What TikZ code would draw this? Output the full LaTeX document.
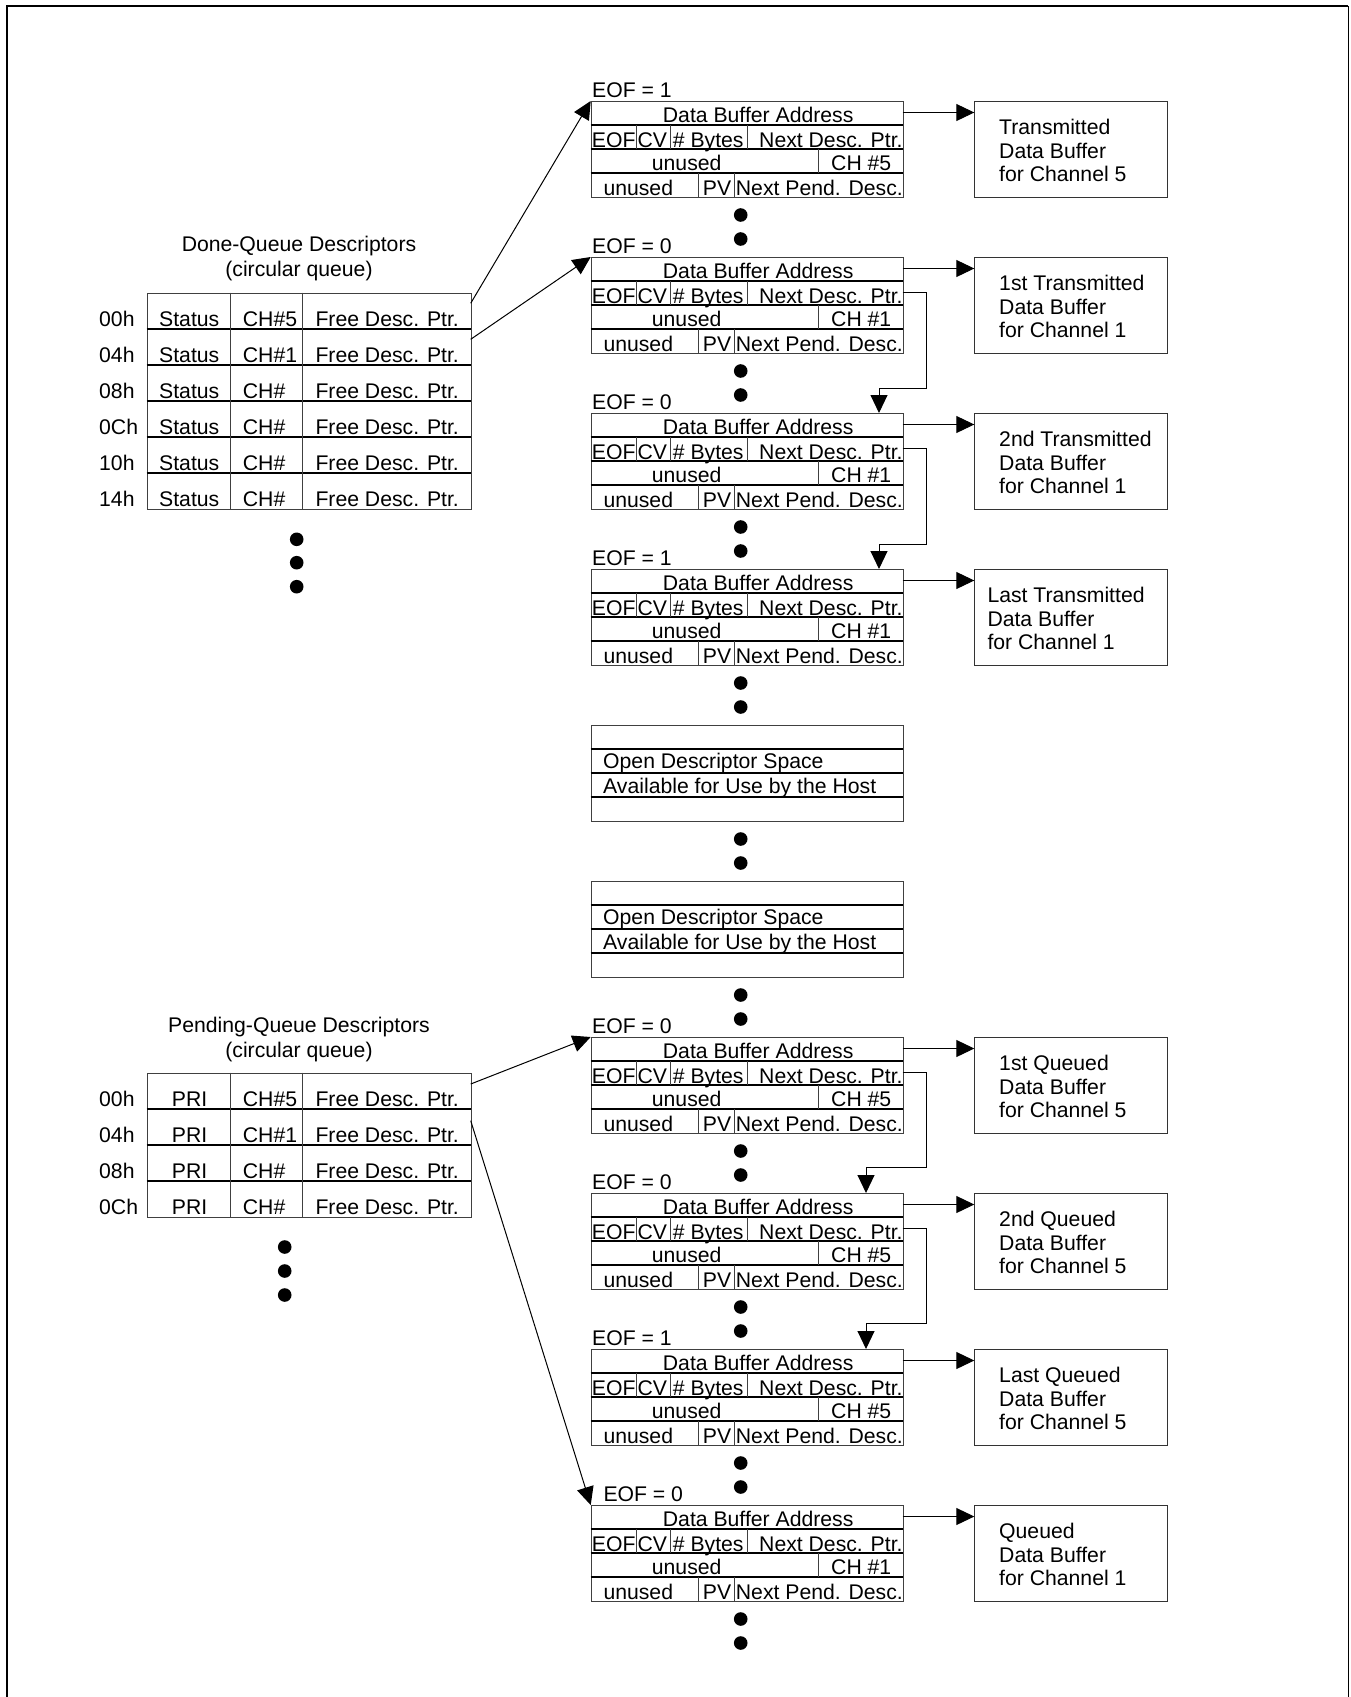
\documentclass[tikz,border=0pt]{standalone}
\usepackage{fontspec}
\setmainfont{Liberation Sans}
\usetikzlibrary{arrows.meta}
\tikzset{
  txt/.style={anchor=base west, inner sep=0pt, font=\fontsize{21.2pt}{24pt}\selectfont},
  ctxt/.style={anchor=base, inner sep=0pt, font=\fontsize{21.2pt}{24pt}\selectfont},
  hline/.style={draw=black, line width=1.6pt},
  vline/.style={draw=black!75, line width=1pt},
  dbox/.style={draw=black!75, line width=1pt, anchor=north west, inner sep=0pt, minimum width=312pt, minimum height=96pt},
  bbox/.style={draw=black!80, line width=1pt, anchor=north west, inner sep=0pt, minimum width=193pt, minimum height=96.6pt},
  tbl/.style={draw=black!75, line width=1pt, anchor=north west, inner sep=0pt, minimum width=324pt},
  arr/.style={draw=black, line width=1pt, -{Triangle[length=18pt,width=17pt]}},
}
% descriptor: name, top, eof, ch, eof-label x
\newcommand\descr[5]{%
  \node[dbox] (#1) at (590.7,#2) {};
  \draw[hline] (590.7,#2+24) -- (902.7,#2+24);
  \draw[hline] (590.7,#2+48) -- (902.7,#2+48);
  \draw[hline] (590.7,#2+72) -- (902.7,#2+72);
  \draw[vline] (636,#2+24) -- (636,#2+48);
  \draw[vline] (670.7,#2+24) -- (670.7,#2+48);
  \draw[vline] (747,#2+24) -- (747,#2+48);
  \draw[vline] (818.3,#2+48) -- (818.3,#2+72);
  \draw[vline] (698.7,#2+72) -- (698.7,#2+96);
  \draw[vline] (734.3,#2+72) -- (734.3,#2+96);
  \node[txt] (#1-lab) at (#5,#2-4) {EOF = #3};
  \node[txt] (#1-dba) at (662.7,#2+21.3) {Data Buffer Address};
  \node[txt] (#1-eof) at (591.7,#2+46.3) {EOF};
  \node[txt] (#1-cv) at (637.3,#2+46.3) {CV};
  \node[txt] (#1-nb) at (672.7,#2+46.3) {\# Bytes};
  \node[txt] (#1-ndp) at (759,#2+46.3) {Next Desc. Ptr.};
  \node[txt] (#1-un1) at (651.7,#2+69.7) {unused};
  \node[txt] (#1-ch) at (831,#2+69.7) {CH \##4};
  \node[txt] (#1-un2) at (603.3,#2+94.3) {unused};
  \node[txt] (#1-pv) at (702.7,#2+94.3) {PV};
  \node[txt] (#1-npd) at (735.7,#2+94.3) {Next Pend. Desc.};
  \fill (740.7,#2+114) circle (6.8pt);
  \fill (740.7,#2+138) circle (6.8pt);
}
% buffer box: descriptor name, top, text x, line 1, line 3
\newcommand\bufbox[5]{%
  \node[bbox] (#1b) at (974.3,#2-0.3) {};
  \node[txt] (#1b1) at (#3,#2+33.3) {#4};
  \node[txt] (#1b2) at (#3,#2+57) {Data Buffer};
  \node[txt] (#1b3) at (#3,#2+80.7) {#5};
  \coordinate (#1dba) at (902.7,#2+11.5);
  \draw[arr] (#1dba) -- (#1dba -| #1b.west);
}
% next-descriptor connector: from, to, top from, top to, x in, turn offset
\newcommand\nextconn[6]{%
  \coordinate (#1nx) at (902.7,#3+35.5);
  \coordinate (#1tn) at (926.7,#4-#6);
  \coordinate (#2in) at (#5,#4);
  \draw[arr] (#1nx) -| (#1tn) -- (#1tn -| #2in) -- (#2in);
}
% open descriptor space: name, top
\newcommand\openbox[2]{%
  \node[dbox] (#1) at (590.7,#2) {};
  \draw[hline] (590.7,#2+24) -- (902.7,#2+24);
  \draw[hline] (590.7,#2+48) -- (902.7,#2+48);
  \draw[hline] (590.7,#2+72) -- (902.7,#2+72);
  \node[txt] (#1-t1) at (603,#2+43.3) {Open Descriptor Space};
  \node[txt] (#1-t2) at (603,#2+68.3) {Available for Use by the Host};
  \fill (740.7,#2+114) circle (6.8pt);
  \fill (740.7,#2+138) circle (6.8pt);
}
\begin{document}
\begin{tikzpicture}[x=1pt,y=-1pt]
\useasboundingbox (0,0) rectangle (1351,1697);
% frame
\draw[line width=2.5pt] (7,1697) -- (7,6) -- (1348,6);
\draw[line width=1pt] (1348,6) -- (1348,1697);

% ---------- Done queue table ----------
\node[ctxt] (dqt1) at (299,251.7) {Done-Queue Descriptors};
\node[ctxt] (dqt2) at (299,276.7) {(circular queue)};
\node[tbl, minimum height=216pt] (dq) at (146.7,292.7) {};
\foreach \yy in {329,365,401,437,473} \draw[hline] (146.7,\yy) -- (470.7,\yy);
\draw[vline] (230.3,292.7) -- (230.3,508.7);
\draw[vline] (302.3,292.7) -- (302.3,508.7);
\foreach \rlab/\rch [count=\i from 0] in {00h/CH\#5,04h/CH\#1,08h/CH\#,0Ch/CH\#,10h/CH\#,14h/CH\#}{
  \node[txt] (dql\i) at (99,326.5+36*\i) {\rlab};
  \node[txt] (dqs\i) at (159,326.5+36*\i) {Status};
  \node[txt] (dqc\i) at (242.7,326.5+36*\i) {\rch};
  \node[txt] (dqf\i) at (315.3,326.5+36*\i) {Free Desc. Ptr.};
}
\fill (296.7,539.3) circle (6.8pt);
\fill (296.7,562.7) circle (6.8pt);
\fill (296.7,586.7) circle (6.8pt);

% ---------- Pending queue table ----------
\node[ctxt] (pqt1) at (299,1032) {Pending-Queue Descriptors};
\node[ctxt] (pqt2) at (299,1057) {(circular queue)};
\node[tbl, minimum height=144.3pt] (pq) at (146.7,1072.7) {};
\foreach \yy in {1109,1145,1181} \draw[hline] (146.7,\yy) -- (470.7,\yy);
\draw[vline] (230.3,1072.7) -- (230.3,1217);
\draw[vline] (302.3,1072.7) -- (302.3,1217);
\foreach \rlab/\rch [count=\i from 0] in {00h/CH\#5,04h/CH\#1,08h/CH\#,0Ch/CH\#}{
  \node[txt] (pql\i) at (99,1106.5+36*\i) {\rlab};
  \node[txt] (pqs\i) at (171.7,1106.5+36*\i) {PRI};
  \node[txt] (pqc\i) at (242.7,1106.5+36*\i) {\rch};
  \node[txt] (pqf\i) at (315.3,1106.5+36*\i) {Free Desc. Ptr.};
}
\fill (284.7,1247) circle (6.8pt);
\fill (284.7,1271) circle (6.8pt);
\fill (284.7,1295) circle (6.8pt);

% ---------- Descriptors ----------
\descr{d0}{101}{1}{5}{592}
\descr{d1}{257}{0}{1}{592}
\descr{d2}{413}{0}{1}{592}
\descr{d3}{569}{1}{1}{592}
\openbox{o1}{725}
\openbox{o2}{881}
\descr{p0}{1037}{0}{5}{592}
\descr{p1}{1193}{0}{5}{592}
\descr{p2}{1349}{1}{5}{592}
\descr{p3}{1505}{0}{1}{603.3}

% ---------- Data buffers ----------
\bufbox{d0}{101}{999}{Transmitted}{for Channel 5}
\bufbox{d1}{257}{999}{1st Transmitted}{for Channel 1}
\bufbox{d2}{413}{999}{2nd Transmitted}{for Channel 1}
\bufbox{d3}{569}{987.3}{Last Transmitted}{for Channel 1}
\bufbox{p0}{1037}{999}{1st Queued}{for Channel 5}
\bufbox{p1}{1193}{999}{2nd Queued}{for Channel 5}
\bufbox{p2}{1349}{999}{Last Queued}{for Channel 5}
\bufbox{p3}{1505}{999}{Queued}{for Channel 1}

% ---------- Next descriptor links ----------
\nextconn{d1}{d2}{257}{413}{879}{25}
\nextconn{d2}{d3}{413}{569}{879}{25}
\nextconn{p0}{p1}{1037}{1193}{866}{25.3}
\nextconn{p1}{p2}{1193}{1349}{866}{25.3}

% ---------- Queue pointers ----------
\coordinate (dq0out) at (470.7,303.3);
\coordinate (dq1out) at (470.7,339.3);
\coordinate (pq0out) at (470.7,1084);
\coordinate (pq1out) at (470.7,1120.7);
\draw[arr] (dq0out) -- (d0.north west);
\draw[arr] (dq1out) -- (d1.north west);
\draw[arr] (pq0out) -- (p0.north west);
\draw[arr] (pq1out) -- (p3.north west);
\end{tikzpicture}
\end{document}
